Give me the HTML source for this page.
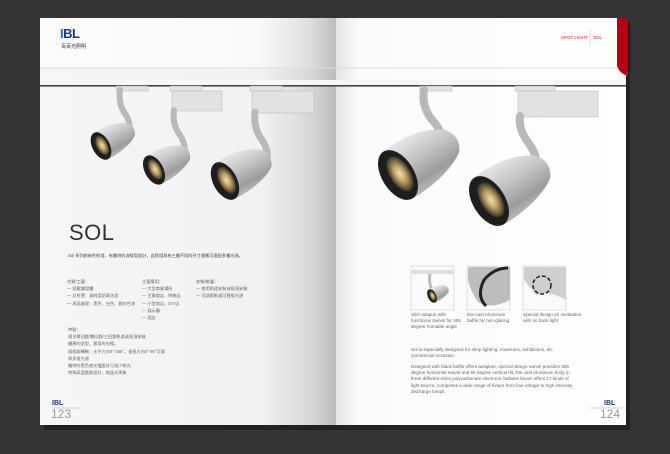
<!DOCTYPE html>
<html><head><meta charset="utf-8"><style>
*{margin:0;padding:0;box-sizing:border-box}
body{width:670px;height:454px;background:#343434;position:relative;overflow:hidden;font-family:"Liberation Sans","Noto Sans CJK SC",sans-serif}
.t{position:absolute;white-space:nowrap;color:#555}
.cn{font-size:4.2px;line-height:7.2px;color:#666}
.en{font-size:4.6px;line-height:6.2px;color:#666}
</style></head><body>
<svg width="670" height="454" style="position:absolute;left:0;top:0">
<defs>
<linearGradient id="lp" x1="0" x2="1">
<stop offset="0" stop-color="#f6f6f6"/><stop offset="0.75" stop-color="#f2f2f2"/><stop offset="0.92" stop-color="#d6d6d6"/><stop offset="1" stop-color="#bcbcbc"/></linearGradient>
<linearGradient id="hw" x1="0" x2="1">
<stop offset="0" stop-color="#fff" stop-opacity="0.6"/><stop offset="0.7" stop-color="#fff" stop-opacity="0.5"/><stop offset="1" stop-color="#fff" stop-opacity="0"/></linearGradient>
<linearGradient id="rp" x1="0" x2="1">
<stop offset="0" stop-color="#e4e4e4"/><stop offset="0.08" stop-color="#fafafa"/><stop offset="1" stop-color="#fff"/></linearGradient>
<linearGradient id="sv" x1="0" y1="0" x2="0" y2="1">
<stop offset="0" stop-color="#e6e6e6"/><stop offset="0.4" stop-color="#c4c4c4"/><stop offset="0.8" stop-color="#9c9c9c"/><stop offset="1" stop-color="#b8b8b8"/></linearGradient>
<radialGradient id="ln"><stop offset="0" stop-color="#f6e2b0"/><stop offset="0.5" stop-color="#b89a60"/><stop offset="1" stop-color="#3a3328"/></radialGradient>
<g id="lamp">
<path d="M0,-24 C20,-27 44,-22 56,-11 Q64,0 56,11 C44,20 20,25 0,24 Z" fill="url(#sv)"/>
<ellipse cx="0" cy="0" rx="14" ry="24" fill="#1e1e1e"/>
<ellipse cx="2" cy="0" rx="9" ry="17" fill="url(#ln)"/>
</g>
</defs>
<rect x="44" y="22" width="586" height="408" fill="#222"/>
<rect x="40" y="18" width="296" height="407" fill="url(#lp)"/>
<rect x="336" y="18" width="290" height="407" fill="url(#rp)"/>
<rect x="40" y="18" width="296" height="50" fill="url(#hw)"/>
<line x1="40" y1="68" x2="626" y2="68" stroke="#ddd" stroke-width="1"/>
<path d="M617,18 H628 V76 Q620,74 617,66 Z" fill="#b40010"/>
<line x1="590" y1="30" x2="590" y2="46" stroke="#e8b0b0" stroke-width="0.6"/>
<rect x="40" y="80" width="586" height="5" fill="#f6f6f6"/>
<rect x="40" y="85" width="586" height="1.6" fill="#444"/>
<g fill="#e2e2e2" stroke="#b4b4b4" stroke-width="0.5">
<rect x="116" y="86" width="32" height="5"/><rect x="170" y="86" width="32" height="5"/><rect x="250" y="86" width="32" height="5"/>
<rect x="172" y="91" width="50" height="20"/><rect x="252" y="91" width="62" height="22"/>
<rect x="420" y="86" width="32" height="5"/><rect x="515" y="86" width="40" height="5"/>
<rect x="518" y="91" width="80" height="26"/>
</g>
<g fill="none" stroke="#b9b9b9" stroke-linecap="round">
<path d="M120,90 Q118,105 126,115 Q132,125 128,135" stroke-width="6"/>
<path d="M174,110 Q172,125 180,135 Q188,148 182,158" stroke-width="6"/>
<path d="M255,112 Q253,128 262,140 Q270,152 266,162" stroke-width="7"/>
<path d="M424,90 Q421,108 434,122 Q447,138 440,150" stroke-width="8"/>
<path d="M520,116 Q518,130 530,145 Q540,160 534,172" stroke-width="8"/>
</g>
<use href="#lamp" transform="translate(101,146) rotate(-28) scale(0.62)"/>
<use href="#lamp" transform="translate(154,170) rotate(-28) scale(0.66)"/>
<use href="#lamp" transform="translate(225,181) rotate(-28) scale(0.85)"/>
<use href="#lamp" transform="translate(398,175) rotate(-32) scale(1.15)"/>
<use href="#lamp" transform="translate(489,201) rotate(-32) scale(1.15)"/>
<g fill="#fafafa" stroke="#ccc" stroke-width="0.6">
<rect x="411" y="266" width="43" height="44"/><rect x="467" y="266" width="43" height="44"/><rect x="523" y="266" width="43" height="44"/>
</g>
<rect x="412" y="270" width="41" height="4" fill="#ddd"/>
<path d="M430,274 Q428,285 434,292" stroke="#bbb" stroke-width="3" fill="none"/>
<use href="#lamp" transform="translate(432,296) rotate(-25) scale(0.3)"/>
<path d="M468,267 H510 V300 Q490,310 478,302 Q470,290 468,280Z" fill="#bdbdbd"/>
<path d="M486,306 Q476,296 484,280 Q494,268 508,268" stroke="#222" stroke-width="3" fill="none"/>
<path d="M524,267 H566 V300 Q550,290 536,295 Q528,285 524,280Z" fill="#cfcfcf"/>
<circle cx="542" cy="285" r="9" fill="none" stroke="#222" stroke-width="1.5" stroke-dasharray="4 2"/>
<line x1="52" y1="408" x2="80" y2="408" stroke="#aaa" stroke-width="0.5"/>
<line x1="590" y1="408" x2="626" y2="408" stroke="#aaa" stroke-width="0.5"/>
</svg>
<div class="t" style="left:60px;top:26px;font-size:13px;font-weight:bold;color:#1c3a72;letter-spacing:-0.5px"><span style="color:#1a6fd0">I</span>BL</div>
<div class="t" style="left:61px;top:43px;font-size:5px;color:#333">百百光照明</div>
<div class="t" style="left:561px;top:35px;font-size:4.5px;color:#c22">SPOT LIGHT</div>
<div class="t" style="left:593px;top:35px;font-size:4.5px;color:#c22">SOL</div>
<div class="t" style="left:69px;top:220px;font-size:22px;color:#333;font-weight:300;letter-spacing:0.5px">SOL</div>
<div class="t cn" style="left:68px;top:252px;color:#444">Sol 系列創新性射燈，有獨特的流線型設計，此款燈具有三種不同的尺寸適應可適配多種光源。</div>
<div class="t cn" style="left:67px;top:278px">材質/工藝：<br>— 鋁壓鑄燈體<br>— 反射罩：高純度鋁氧化鋁<br>— 表面處理：黑色、白色、銀灰色漆</div>
<div class="t cn" style="left:142px;top:278px">主要應用：<br>— 大型商業場所<br>— 百貨商店、時裝店<br>— 小型商店，DIY店<br>— 展示廳<br>— 酒店</div>
<div class="t cn" style="left:196px;top:278px">安裝/維護：<br>— 使用軌道安裝或吸頂安裝<br>— 可調節軌道可替換光源</div>
<div class="t cn" style="left:68px;top:326px">特點：<br>適合單回路/雙回路/三回路軌道或吸頂安裝<br>優異的造型，實用的光線。<br>兩個旋轉軸：水平方向0°-355°，垂直方向0°-90°可調<br>眾多燈光源<br>獨特的黑色遮光擋設計可減少眩光<br>特殊高溫散熱設計，無溫光現象</div>
<div class="t en" style="left:411px;top:312px">Slim adaptor,with<br>functional Swivel for 355<br>degree Turnable angle</div>
<div class="t en" style="left:467px;top:312px">Die-cast Aluminum<br>baffle for non-glaring</div>
<div class="t en" style="left:523px;top:312px">Special design air ventilation<br>with no back light</div>
<div class="t en" style="left:411px;top:347px">Sol is especially designed for shop lighting, museums, exhibitions, etc<br>commercial occasion.</div>
<div class="t en" style="left:411px;top:364px">Designed with black baffle offers antiglare, special design swivel provides 355<br>degree horizontal swivel and 90 degree vertical tilt. Die cast Aluminum body in<br>three different sizes polycarbonate electronic ballasts boxes offers 17 kinds of<br>light source, comprises a wide range of fixture from low voltage to high intensity<br>discharge lamps.</div>
<div class="t" style="left:52px;top:400px;font-size:7px;font-weight:bold;color:#1c3a72">IBL</div>
<div class="t" style="left:51px;top:407px;font-size:12px;color:#999">123</div>
<div class="t" style="left:604px;top:400px;font-size:7px;font-weight:bold;color:#1c3a72">IBL</div>
<div class="t" style="left:600px;top:407px;font-size:12px;color:#999">124</div>
</body></html>
